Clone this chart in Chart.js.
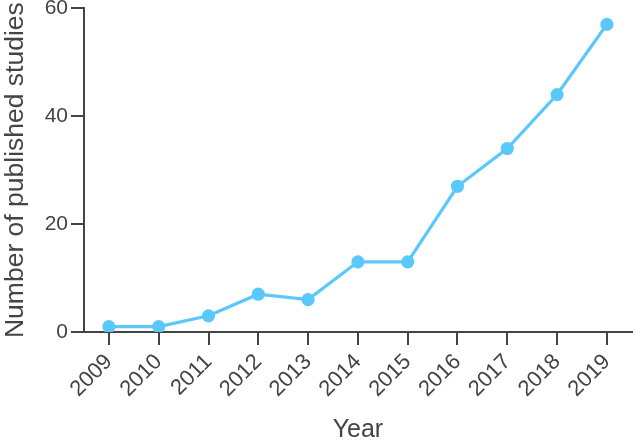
<!DOCTYPE html>
<html>
<head>
<meta charset="utf-8">
<script src="https://cdn.jsdelivr.net/npm/chart.js@4/dist/chart.umd.min.js"></script>
<style>
html,body{margin:0;padding:0;background:#fff;}
#wrap{width:640px;height:441px;position:relative;}
</style>
</head>
<body>
<div id="wrap"><canvas id="c" width="640" height="441"></canvas></div>
<script>
const years = ['2009','2010','2011','2012','2013','2014','2015','2016','2017','2018','2019'];
const studies = [1, 1, 3, 7, 6, 13, 13, 27, 34, 44, 57];
const yTicks = [0, 20, 40, 60];

const ink = '#444444';
const fontFam = '"Liberation Sans", Arial, Helvetica, sans-serif';

new Chart(document.getElementById('c'), {
  type: 'line',
  data: {
    labels: years,
    datasets: [{
      data: studies,
      borderColor: '#5ac8fa',
      backgroundColor: '#5ac8fa',
      borderWidth: 3.2,
      pointRadius: 5,
      pointHoverRadius: 5,
      tension: 0,
      fill: false
    }]
  },
  options: {
    responsive: false,
    animation: false,
    events: [],
    layout: { padding: { top: 6, right: 2, left: 0, bottom: 0 } },
    plugins: { legend: { display: false }, tooltip: { enabled: false } },
    scales: {
      x: {
        type: 'category',
        offset: true,
        afterFit: (a) => { a.height = 109; a.paddingLeft = 0; a.paddingRight = 0; },
        grid: { display: true, drawOnChartArea: false, drawTicks: true, tickLength: 13, tickColor: ink, lineWidth: 2, offset: false },
        border: { display: true, color: ink, width: 2 },
        ticks: { color: ink, font: { family: fontFam, size: 22 }, minRotation: 45, maxRotation: 45, padding: 4, autoSkip: false },
        title: { display: true, text: 'Year', color: ink, font: { family: fontFam, size: 25 }, padding: { top: 0, bottom: -4 } }
      },
      y: {
        min: 0, max: 60,
        afterBuildTicks: (axis) => { axis.ticks = yTicks.map(v => ({ value: v })); },
        afterFit: (a) => { a.width = 84; a.paddingTop = 0; a.paddingBottom = 0; },
        grid: { display: true, drawOnChartArea: false, drawTicks: true, tickLength: 13, tickColor: ink, lineWidth: 2 },
        border: { display: true, color: ink, width: 2 },
        ticks: { color: ink, font: { family: fontFam, size: 21 }, padding: 3 },
        title: { display: true, text: 'Number of published studies', color: ink, font: { family: fontFam, size: 26.5 }, padding: { top: 0, bottom: 0 } }
      }
    }
  }
});
</script>
</body>
</html>
